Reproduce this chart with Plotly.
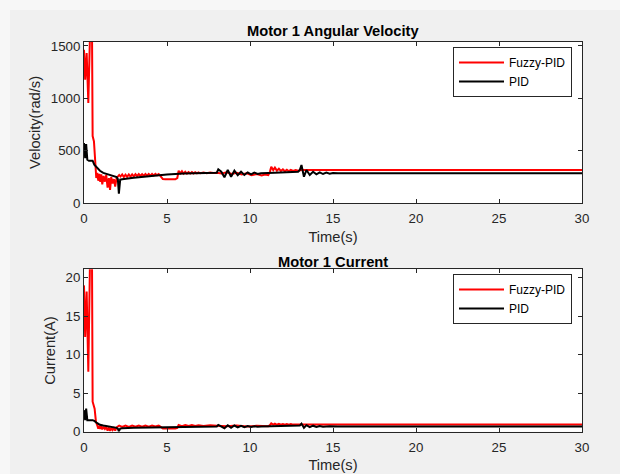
import plotly.graph_objects as go

# ---------------- Motor 1 angular velocity (rad/s) ----------------
t_vel_fuzzy = [0, 0.07, 0.16, 0.26, 0.36, 0.42, 0.48, 0.52, 0.6, 0.68, 0.74, 0.8, 0.86, 0.92,
               0.98, 1.04, 1.1, 1.18, 1.26, 1.34, 1.42, 1.5, 1.57, 1.64, 1.72, 1.8, 1.88, 1.96,
               2.04, 2.12, 2.2, 2.3, 2.4, 2.5, 2.6, 2.7, 2.8, 2.9, 3.0, 3.1, 3.2, 3.3, 3.4, 3.5,
               3.6, 3.7, 3.8, 3.9, 4.0, 4.1, 4.2, 4.3, 4.4, 4.5, 4.6, 4.75, 4.9, 5.1, 5.3, 5.5,
               5.62, 5.7, 5.8, 5.9, 6.0, 6.1, 6.2, 6.3, 6.4, 6.5, 6.6, 6.7, 6.8, 6.9, 7.0, 7.2,
               7.4, 7.6, 7.8, 8.0, 8.3, 8.6, 8.9, 9.2, 9.5, 9.8, 10.1, 10.4, 10.7, 10.9, 11.1,
               11.2, 11.28, 11.4, 11.5, 11.62, 11.74, 11.86, 11.98, 12.1, 12.22, 12.34, 12.46,
               12.6, 12.75, 12.9, 13.1, 30]
vel_fuzzy = [1463, 1177, 1431, 955, 1600, 1900, 1700, 641, 590, 368, 241, 290, 215, 280,
             205, 275, 180, 260, 206, 270, 150, 240, 127, 250, 190, 230, 160, 240,
             260, 270, 255, 275, 250, 272, 252, 275, 254, 276, 256, 277, 258, 278, 260, 278,
             262, 279, 263, 280, 264, 280, 266, 281, 268, 278, 262, 230, 228, 226, 225, 228,
             240, 310, 285, 305, 282, 300, 283, 298, 284, 297, 285, 296, 285, 295, 286, 294,
             287, 293, 288, 292, 285, 295, 280, 290, 275, 285, 268, 278, 265, 275, 268,
             300, 349, 317, 340, 311, 330, 308, 324, 305, 320, 306, 318,
             308, 316, 310, 318, 318]

t_vel_pid = [0, 0.07, 0.13, 0.2, 0.3, 0.52, 0.62, 0.8, 0.96, 1.16, 1.47, 1.77, 1.97, 2.04,
             2.1, 2.18, 2.3, 3, 4, 5, 6, 7, 8.0, 8.09, 8.27, 8.46, 8.66, 8.86, 9.06, 9.26,
             9.46, 9.66, 9.86, 10.06, 10.26, 10.46, 10.66, 11.5, 12.5, 12.9, 13.0, 13.1,
             13.25, 13.4, 13.6, 13.8, 14.0, 14.2, 14.4, 14.6, 14.8, 15.0, 15.3, 30]
vel_pid = [574, 431, 565, 415, 405, 406, 368, 336, 310, 290, 272, 262, 250, 230,
           92, 225, 229, 244, 260, 274, 284, 290, 292, 324, 301, 248, 317, 253, 311, 267,
           301, 270, 295, 276, 292, 279, 286, 290, 298, 301, 317, 365,
           253, 317, 270, 301, 276, 295, 279, 292, 282, 289, 286, 286]

# ---------------- Motor 1 current (A) ----------------
t_cur_fuzzy = [0, 0.07, 0.16, 0.26, 0.36, 0.42, 0.48, 0.52, 0.64, 0.72, 0.8, 0.86, 0.92,
               0.98, 1.04, 1.1, 1.18, 1.26, 1.34, 1.42, 1.5, 1.57, 1.64, 1.72, 1.8, 1.88,
               1.96, 2.04, 2.12, 2.3, 2.5, 2.7, 2.9, 3.1, 3.3, 3.5, 3.7, 3.9, 4.1, 4.3, 4.5,
               4.6, 4.75, 5.1, 5.5, 5.62, 5.7, 5.9, 6.1, 6.3, 6.5, 6.7, 6.9, 7.2, 7.6, 8.0,
               8.6, 9.2, 9.8, 10.4, 10.9, 11.1, 11.2, 11.28, 11.4, 11.5, 11.62, 11.74, 11.86,
               11.98, 12.1, 12.22, 12.34, 12.46, 12.6, 12.75, 12.9, 13.1, 30]
cur_fuzzy = [19.0, 12.3, 18.2, 7.8, 22.0, 26.0, 23.0, 3.9, 3.0, 1.3, 0.8, 0.4, 0.75,
             0.35, 0.7, 0.3, 0.65, 0.35, 0.6, 0.15, 0.55, 0.1, 0.5, 0.2, 0.45, 0.15,
             0.55, 0.65, 0.8, 0.62, 0.8, 0.63, 0.8, 0.64, 0.8, 0.65, 0.8, 0.66, 0.8, 0.67, 0.78,
             0.65, 0.42, 0.4, 0.4, 0.5, 0.88, 0.72, 0.86, 0.73, 0.85, 0.74, 0.84, 0.75, 0.83, 0.78,
             0.72, 0.8, 0.68, 0.76, 0.66, 0.7, 0.85, 1.08, 0.92, 1.05, 0.9, 1.02, 0.9,
             1.0, 0.9, 0.99, 0.91, 0.98, 0.92, 0.97, 0.93, 0.95, 0.95]

t_cur_pid = [0, 0.07, 0.13, 0.2, 0.52, 0.62, 0.8, 0.96, 1.16, 1.47, 1.77, 1.97, 2.04, 2.1,
             2.18, 2.3, 3, 4, 5, 6, 7, 8.0, 8.09, 8.27, 8.46, 8.66, 8.86, 9.06, 9.26, 9.46,
             9.66, 9.86, 10.06, 10.26, 10.46, 10.66, 11.5, 12.9, 13.0, 13.1, 13.25, 13.4,
             13.6, 13.8, 14.0, 14.2, 14.4, 14.8, 15.3, 30]
cur_pid = [2.8, 1.5, 3.0, 1.5, 1.5, 1.4, 1.1, 0.9, 0.8, 0.7, 0.55, 0.5, 0.4, 0.05,
           0.4, 0.45, 0.5, 0.55, 0.6, 0.63, 0.66, 0.67, 0.88, 0.72, 0.45, 0.84, 0.5, 0.8, 0.56, 0.76,
           0.58, 0.73, 0.61, 0.71, 0.63, 0.68, 0.69, 0.72, 0.8, 1.05, 0.5, 0.85,
           0.6, 0.78, 0.62, 0.74, 0.65, 0.7, 0.68, 0.68]

series_names = ["Fuzzy-PID", "PID"]
series_colors = ["#ff0000", "#000000"]

x_ticks = [0, 5, 10, 15, 20, 25, 30]
vel_ticks = [0, 500, 1000, 1500]
cur_ticks = [0, 5, 10, 15, 20]

W, H = 620, 474
FONT = "Liberation Sans, Arial, Helvetica, sans-serif"
AX_COLOR = "#262626"

fig = go.Figure()

panels = [
    (t_vel_fuzzy, vel_fuzzy, t_vel_pid, vel_pid, "x", "y", "legend"),
    (t_cur_fuzzy, cur_fuzzy, t_cur_pid, cur_pid, "x2", "y2", "legend2"),
]
for tf, vf, tp, vp, xa, ya, lg in panels:
    for tt, vv, name, col in ((tf, vf, series_names[0], series_colors[0]),
                              (tp, vp, series_names[1], series_colors[1])):
        fig.add_trace(go.Scatter(x=tt, y=vv, mode="lines", name=name,
                                 line=dict(color=col, width=2),
                                 xaxis=xa, yaxis=ya, legend=lg))

# plot-area boxes in pixel space
left, right = 84, 582
top1, bot1 = 41.7, 203.3
top2, bot2 = 269.3, 431.7


def ydom(t, b):
    return [1 - b / H, 1 - t / H]


def xaxis(domain, anchor):
    return dict(domain=domain, anchor=anchor, range=[0, 30], tickvals=x_ticks,
                ticks="inside", ticklen=4, tickcolor=AX_COLOR, showline=True,
                linecolor=AX_COLOR, linewidth=1, mirror="ticks", showgrid=False,
                zeroline=False, automargin=False, ticklabelstandoff=3,
                tickfont=dict(family=FONT, size=13.3, color=AX_COLOR),
                title=dict(text="Time(s)", font=dict(family=FONT, size=14.7, color=AX_COLOR),
                           standoff=6))


def yaxis(domain, anchor, rng, tv, label):
    return dict(domain=domain, anchor=anchor, range=rng, tickvals=tv,
                ticks="inside", ticklen=4, tickcolor=AX_COLOR, showline=True,
                linecolor=AX_COLOR, linewidth=1, mirror="ticks", showgrid=False,
                zeroline=False, automargin=False,
                tickfont=dict(family=FONT, size=13.3, color=AX_COLOR),
                title=dict(text=label, font=dict(family=FONT, size=14.7, color=AX_COLOR),
                           standoff=6))


xdom = [left / W, right / W]
legend_style = dict(bgcolor="white", bordercolor=AX_COLOR, borderwidth=1,
                    font=dict(family=FONT, size=12, color="#000000"),
                    xanchor="left", yanchor="top", tracegroupgap=0, itemwidth=45)

fig.update_layout(
    width=W, height=H,
    margin=dict(l=0, r=0, t=0, b=0, autoexpand=False),
    paper_bgcolor="#f0f0f0",
    plot_bgcolor="white",
    xaxis=xaxis(xdom, "y"),
    yaxis=yaxis(ydom(top1, bot1), "x", [0, 1540], vel_ticks, "Velocity(rad/s)"),
    xaxis2=xaxis(xdom, "y2"),
    yaxis2=yaxis(ydom(top2, bot2), "x2", [0, 21.09], cur_ticks, "Current(A)"),
    legend=dict(x=453 / W, y=1 - 47 / H, **legend_style),
    legend2=dict(x=453 / W, y=1 - 274 / H, **legend_style),
    showlegend=True,
    annotations=[
        dict(text="<b>Motor 1 Angular Velocity</b>", x=(left + right) / 2 / W, y=1 - 31 / H,
             xref="paper", yref="paper", showarrow=False, xanchor="center", yanchor="middle",
             font=dict(family=FONT, size=14.7, color="#000000")),
        dict(text="<b>Motor 1 Current</b>", x=(left + right) / 2 / W, y=1 - 262 / H,
             xref="paper", yref="paper", showarrow=False, xanchor="center", yanchor="middle",
             font=dict(family=FONT, size=14.7, color="#000000")),
    ],
    # lighter window strip along the left and top edges
    shapes=[
        dict(type="rect", xref="paper", yref="paper", x0=0, x1=10 / W, y0=0, y1=1,
             fillcolor="#f7f7f7", line=dict(width=0), layer="below"),
        dict(type="rect", xref="paper", yref="paper", x0=0, x1=1, y0=1 - 10 / H, y1=1,
             fillcolor="#f7f7f7", line=dict(width=0), layer="below"),
    ],
)

fig.write_html("out.html")
